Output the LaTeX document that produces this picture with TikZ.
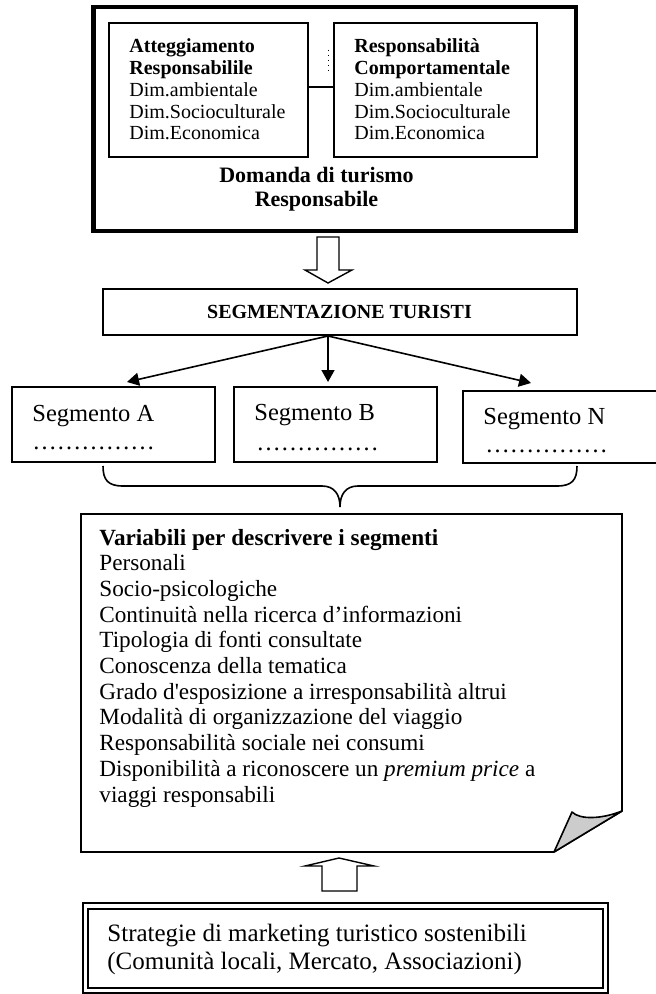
\documentclass[tikz,border=0pt]{standalone}
\usepackage{fontspec}
\setmainfont{Liberation Serif}
\newfontfamily\rawserif{Liberation Serif}
\usetikzlibrary{fit,arrows.meta}
\newcommand\fsmall{\fontsize{10}{10.85}\selectfont}
\newcommand\fdom{\fontsize{11}{12}\selectfont}
\newcommand\fsegm{\fontsize{12.25}{14}\selectfont}
\newcommand\fvar{\fontsize{11.6}{12.85}\selectfont}
\newcommand\fstrat{\fontsize{12.5}{14}\selectfont}
\begin{document}
\begin{tikzpicture}[x=0.5pt,y=-0.5pt,
  box/.style={draw, line width=0.7pt, inner sep=0pt},
  thickbox/.style={draw, line width=2.2pt, inner sep=0pt},
  txt/.style={anchor=base west, inner sep=0pt},
  ctxt/.style={anchor=base, inner sep=0pt},
  hollow/.style={draw, line width=0.7pt, fill=white, line join=miter},
  arr/.style={line width=0.8pt, -{Triangle[length=6pt,width=6.5pt]}},
  link/.style={line width=0.8pt}]
\useasboundingbox (0,0) rectangle (656,994);

% ---- top block
\node[thickbox, fit={(93.5,7) (576,231)}] (outer) {};
\node[box, fit={(109,23) (308,157)}] (L) {};
\node[box, fit={(334,23) (537,157)}] (R) {};
\node[txt, font=\fsmall\bfseries] (l1) at (129,53) {Atteggiamento};
\node[txt, font=\fsmall\bfseries] (l2) at (129,75) {Responsabilile};
\node[txt, font=\fsmall] (l3) at (129,97) {Dim.ambientale};
\node[txt, font=\fsmall] (l4) at (129,118.5) {Dim.Socioculturale};
\node[txt, font=\fsmall] (l5) at (129,140) {Dim.Economica};
\node[txt, font=\fsmall\bfseries] (r1) at (354,53) {Responsabilità};
\node[txt, font=\fsmall\bfseries] (r2) at (354,75) {Comportamentale};
\node[txt, font=\fsmall] (r3) at (354,97) {Dim.ambientale};
\node[txt, font=\fsmall] (r4) at (354,118.5) {Dim.Socioculturale};
\node[txt, font=\fsmall] (r5) at (354,140) {Dim.Economica};
\coordinate (cy) at (0,87);
\draw[link] (L.east |- cy) -- (R.west |- cy);
\coordinate (d1) at (328,50);
\coordinate (d2) at (328,71);
\draw[line width=0.5pt, dotted] (d1) -- (d2);
\node[ctxt, font=\fdom\bfseries] (dom1) at (316.5,183) {Domanda di turismo};
\node[ctxt, font=\fdom\bfseries] (dom2) at (316.5,207) {Responsabile};

% ---- hollow down arrow
\draw[hollow] (317,237) -- (339,237) -- (339,270) -- (352,270) -- (328,283)
  -- (305,270) -- (317,270) -- cycle;

% ---- segmentation
\node[box, fit={(103,289) (577,335)}] (seg) {};
\node[ctxt, font=\fsmall\bfseries] (segt) at (339.5,318) {SEGMENTAZIONE TURISTI};

\node[box, fit={(12,387) (215,462)}] (A) {};
\node[box, fit={(234,387) (437,462)}] (B) {};
\node[box, fit={(463,391) (660,463)}] (N) {};
\node[txt, font=\fsegm] (at) at (32,421) {Segmento A};
\node[txt, font=\fsegm] (ad) at (32,449) {……………};
\node[txt, font=\fsegm] (bt) at (254,420) {Segmento B};
\node[txt, font=\fsegm] (bd) at (256,450) {……………};
\node[txt, font=\fsegm] (nt) at (483,424) {Segmento N};
\node[txt, font=\fsegm] (nd) at (485,452) {……………};

\coordinate (fork) at (328,336);
\coordinate (tA) at (127,382);
\coordinate (tB) at (328,382);
\coordinate (tN) at (531,383);
\draw[arr] (fork) -- (tA);
\draw[arr] (fork) -- (tB);
\draw[arr] (fork) -- (tN);

% ---- brace
\draw[link] (103,466) .. controls (103,480) and (108,486) .. (123,486) -- (322,486)
  .. controls (334,486) and (340,494) .. (340,507)
  .. controls (340,494) and (346,486) .. (358,486) -- (557,486)
  .. controls (572,486) and (577,480) .. (577,466);

% ---- variables (folded page)
\draw[line width=0.8pt, line join=miter] (81,514) -- (622,514) -- (622,811) -- (554,852) -- (81,852) -- cycle;
\filldraw[line width=0.8pt, fill=gray!40, line join=round] (554,852) -- (572,812)
  .. controls (580,820) and (602,819) .. (622,811) -- cycle;
\foreach \i/\t in {1/{\textbf{Variabili per descrivere i segmenti}},
  2/{Personali}, 3/{Socio-psicologiche},
  4/{Continuità nella ricerca d’informazioni},
  5/{Tipologia di fonti consultate},
  6/{Conoscenza della tematica},
  7/{Grado d{\rawserif'}esposizione a irresponsabilità altrui},
  8/{Modalità di organizzazione del viaggio},
  9/{Responsabilità sociale nei consumi},
  10/{Disponibilità a riconoscere un \textit{premium price} a},
  11/{viaggi responsabili}}
  \node[txt, font=\fvar] (v\i) at (99,{545+25.7*(\i-1)}) {\t};

% ---- hollow up arrow
\draw[hollow] (322,891) -- (322,866) -- (305,866) -- (339,858) -- (374,866)
  -- (357,866) -- (357,891) -- cycle;

% ---- strategies (double frame)
\node[box, fit={(83,903) (608,993)}] (strO) {};
\node[box, fit={(88,909) (603,988)}] (strI) {};
\node[txt, font=\fstrat] (s1) at (107,941) {Strategie di marketing turistico sostenibili};
\node[txt, font=\fstrat] (s2) at (107,969) {(Comunità locali, Mercato, Associazioni)};
\end{tikzpicture}
\end{document}
